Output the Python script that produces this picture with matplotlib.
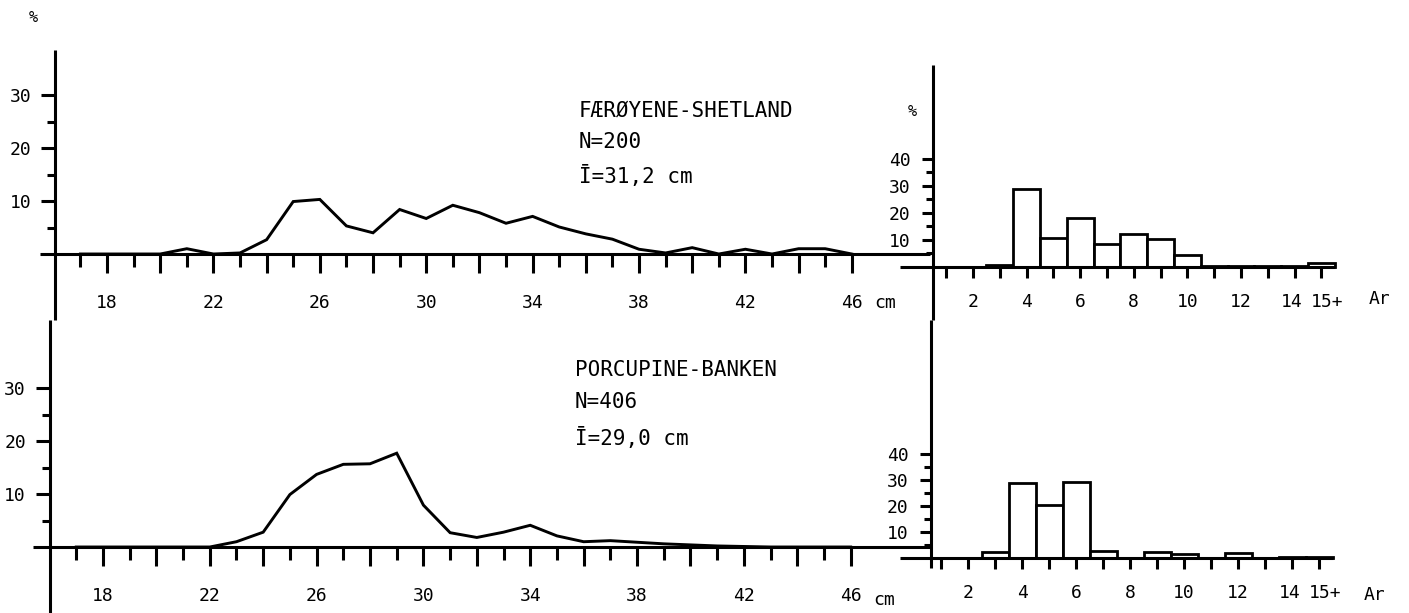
import matplotlib
matplotlib.use("Agg")
import matplotlib.pyplot as plt
from matplotlib.transforms import ScaledTranslation

plt.rcParams['font.family'] = ['DejaVu Sans Mono', 'DejaVu Sans']

# ---------------- data ----------------
length_cm = list(range(17, 47))
faroe_shetland_len_pct = [0, 0, 0, 0, 1.0, 0, 0.2, 2.7, 9.9, 10.3,
                          5.3, 4.0, 8.4, 6.7, 9.2, 7.8, 5.8, 7.1, 5.1, 3.8,
                          2.8, 0.9, 0.2, 1.2, 0, 0.9, 0, 1.0, 1.0, 0]
porcupine_len_pct = [0, 0, 0, 0, 0, 0, 1.0, 2.8, 9.9, 13.7,
                     15.6, 15.7, 17.7, 7.9, 2.7, 1.8, 2.8, 4.1, 2.1, 1.0,
                     1.2, 0.9, 0.6, 0.4, 0.2, 0.1, 0, 0, 0, 0]

ages = list(range(1, 16))
faroe_shetland_age_pct = [0, 0, 0.6, 28.8, 10.9, 18.0, 8.4, 12.3, 10.4, 4.3,
                          0.3, 0.3, 0.3, 0.3, 1.3]
porcupine_age_pct = [0, 0, 2.2, 29.0, 20.2, 29.3, 2.5, 0, 2.2, 1.7,
                     0, 1.9, 0, 0.4, 0.3]

length_major_ticks = list(range(18, 47, 2))
length_minor_ticks = list(range(17, 47, 2))
length_labels = {18: '18', 22: '22', 26: '26', 30: '30', 34: '34',
                 38: '38', 42: '42', 46: '46'}
age_label_ticks = [2, 4, 6, 8, 10, 12, 14, 15]
age_labels = ['2', '4', '6', '8', '10', '12', '14', '15+']

faroe_title = ['FÆRØYENE-SHETLAND', 'N=200', 'Ī=31,2 cm']
porcupine_title = ['PORCUPINE-BANKEN', 'N=406', 'Ī=29,0 cm']

# ---------------- layout helpers ----------------
W, H = 1409, 613
fig = plt.figure(figsize=(W / 100, H / 100), dpi=100)
fig.patch.set_facecolor('white')

LW = 2.2
FS_TICK = 13
FS_TXT = 15


def axes_px(x0, y0, x1, y1):
    ax = fig.add_axes([x0 / W, 1 - y1 / H, (x1 - x0) / W, (y1 - y0) / H])
    ax.set_facecolor('none')
    for s in ('top', 'right'):
        ax.spines[s].set_visible(False)
    for s in ('left', 'bottom'):
        ax.spines[s].set_linewidth(LW)
        ax.spines[s].set_capstyle('butt')
    ax.spines['bottom'].set_position(('data', 0))
    return ax


def style_length_axes(ax, ymajor, yminor):
    ax.set_xticks(length_major_ticks)
    ax.set_xticklabels([length_labels.get(t, '') for t in length_major_ticks])
    ax.set_xticks(length_minor_ticks, minor=True)
    ax.tick_params(axis='x', which='major', direction='out', length=14, width=LW,
                   pad=15, labelsize=FS_TICK)
    ax.tick_params(axis='x', which='minor', direction='out', length=9, width=LW)
    ax.set_yticks(ymajor)
    ax.set_yticks(yminor, minor=True)
    ax.tick_params(axis='y', which='major', direction='out', length=10, width=LW,
                   pad=7, labelsize=FS_TICK)
    ax.tick_params(axis='y', which='minor', direction='out', length=6, width=LW)


def style_age_axes(ax, ymajor, yminor):
    ax.set_xticks(age_label_ticks)
    ax.set_xticklabels(age_labels)
    ax.set_xticks([a for a in ages if a not in age_label_ticks], minor=True)
    ax.tick_params(axis='x', which='both', direction='out', length=8, width=LW,
                   pad=11, labelsize=FS_TICK)
    ax.set_yticks(ymajor)
    ax.set_yticks(yminor, minor=True)
    ax.tick_params(axis='y', which='major', direction='out', length=8, width=LW,
                   pad=8, labelsize=FS_TICK)
    ax.tick_params(axis='y', which='minor', direction='out', length=5, width=LW)
    # nudge the "14" left and "15+" right a little, as in the original
    labels = ax.get_xticklabels()
    labels[-2].set_transform(labels[-2].get_transform()
                             + ScaledTranslation(-2 / 72, 0, fig.dpi_scale_trans))
    labels[-1].set_transform(labels[-1].get_transform()
                             + ScaledTranslation(4 / 72, 0, fig.dpi_scale_trans))


# ---------------- top-left: length, Færøyene-Shetland ----------------
ax1 = axes_px(40, 50, 930, 320)
ax1.set_xlim(15.48, 48.94)
ax1.set_ylim(-12.45, 38.49)
ax1.spines['left'].set_position(('data', 16.05))
ax1.plot(length_cm, faroe_shetland_len_pct, color='black', lw=2.1,
         solid_joinstyle='miter', clip_on=False)
style_length_axes(ax1, [10, 20, 30], [5, 15, 25])
for line, yv in zip(faroe_title, [27.1, 21.1, 14.7]):
    ax1.text(35.74, yv, line, fontsize=FS_TXT, va='center', ha='left')

# ---------------- bottom-left: length, Porcupine ----------------
ax2 = axes_px(33, 320, 930, 613)
ax2.set_xlim(15.38, 48.97)
ax2.set_ylim(-12.45, 42.83)
ax2.spines['left'].set_position(('data', 16.0))
ax2.plot(length_cm, porcupine_len_pct, color='black', lw=2.1,
         solid_joinstyle='miter', clip_on=False)
style_length_axes(ax2, [10, 20, 30], [5, 15, 25])
for line, yv in zip(porcupine_title, [33.4, 27.4, 20.5]):
    ax2.text(35.68, yv, line, fontsize=FS_TXT, va='center', ha='left')

# ---------------- top-right: age, Færøyene-Shetland ----------------
ax3 = axes_px(900, 65, 1409, 320)
ax3.set_xlim(-0.724, 18.27)
ax3.set_ylim(-19.63, 74.8)
ax3.spines['left'].set_position(('data', 0.5))
ax3.spines['bottom'].set_bounds(-0.724, 15.5)
ax3.bar(ages, faroe_shetland_age_pct, width=1.0, facecolor='white',
        edgecolor='black', linewidth=2.0, zorder=1)
style_age_axes(ax3, [10, 20, 30, 40], [5, 15, 25, 35])

# ---------------- bottom-right: age, Porcupine ----------------
ax4 = axes_px(900, 320, 1409, 613)
ax4.set_xlim(-0.52, 18.33)
ax4.set_ylim(-21.15, 91.5)
ax4.spines['left'].set_position(('data', 0.63))
ax4.spines['left'].set_bounds(-4.0, 91.5)
ax4.spines['bottom'].set_bounds(-0.52, 15.5)
ax4.bar(ages, porcupine_age_pct, width=1.0, facecolor='white',
        edgecolor='black', linewidth=2.0, zorder=1)
style_age_axes(ax4, [10, 20, 30, 40], [5, 15, 25, 35])

# ---------------- unit labels ----------------
def ftext(x, y, s, size=FS_TICK):
    fig.text(x / W, 1 - y / H, s, fontsize=size, ha='center', va='center')

ftext(33, 18, '%', 11)
ftext(912, 112, '%', 11)
ftext(885, 303, 'cm')
ftext(884, 600, 'cm')
ftext(1380, 299, 'Ar')
ftext(1375, 595, 'Ar')

fig.savefig('out.png', dpi=100, facecolor='white')
